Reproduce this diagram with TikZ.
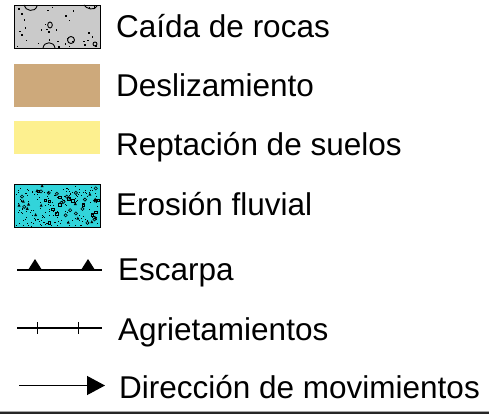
\documentclass[tikz,border=0pt]{standalone}
\usepackage{fontspec}
\setmainfont{Liberation Sans}
\usetikzlibrary{arrows.meta}
\definecolor{rockgray}{RGB}{202,202,202}
\definecolor{slidetan}{RGB}{205,169,123}
\definecolor{creepyel}{RGB}{253,240,143}
\definecolor{rivcyan}{RGB}{50,212,218}
\tikzset{
  swatch/.style={minimum width=86pt, minimum height=43pt, inner sep=0pt, outer sep=0pt},
  lbl/.style={anchor=base west, inner sep=0pt, font=\fontsize{31.5}{36}\selectfont},
  symline/.style={line width=1.8pt},
}
\begin{document}
\begin{tikzpicture}[x=1pt,y=-1pt]
\useasboundingbox (0,0) rectangle (489,414);
\fill[white] (0,0) rectangle (489,414);
\pgfmathsetseed{12}
% swatches
\node[swatch, fill=rockgray] (s1) at (57,26.5) {};
\begin{scope}
  \clip (s1.north west) rectangle (s1.south east);
  \foreach \i in {1,...,34}{
    \pgfmathsetmacro{\rx}{15+84*rnd}
    \pgfmathsetmacro{\ry}{6+41*rnd}
    \fill (\rx,\ry) rectangle ++(1.6,1.6);
  }
  \draw[line width=0.9pt] (24,5) .. controls (25,11) and (35,13) .. (37,6);
  \draw[line width=0.9pt] (84,5) .. controls (86,9) and (95,11) .. (97,6);
  \draw[line width=0.9pt] (50,25) circle (2.3 and 3);
  \draw[line width=0.9pt] (43,48) .. controls (44,41) and (54,41) .. (55,48);
  \draw[line width=0.9pt] (71,40) circle (3.5);
  \draw[line width=0.9pt] (95,44) circle (2);
\end{scope}
\draw[line width=0.9pt] (s1.north west) rectangle (s1.south east);

\node[swatch, fill=slidetan] (s2) at (57,85.5) {};
\node[swatch, fill=creepyel, minimum height=33pt] (s3) at (57,137.5) {};

\node[swatch, fill=rivcyan] (s4) at (57,205.5) {};
\begin{scope}
  \clip (s4.north west) rectangle (s4.south east);
  \foreach \i in {1,...,170}{
    \pgfmathsetmacro{\rx}{15+84*rnd}
    \pgfmathsetmacro{\ry}{185+41*rnd}
    \fill (\rx,\ry) rectangle ++(1,1);
  }
  \foreach \i in {1,...,18}{
    \pgfmathsetmacro{\rx}{17+80*rnd}
    \pgfmathsetmacro{\ry}{187+37*rnd}
    \draw[line width=0.6pt] (\rx,\ry) circle (1.6);
  }
  \foreach \i in {1,...,16}{
    \pgfmathsetmacro{\rx}{17+80*rnd}
    \pgfmathsetmacro{\ry}{187+37*rnd}
    \fill (\rx,\ry) -- ++(3,0) -- ++(-1.5,-3) -- cycle;
  }
  \foreach \i in {1,...,14}{
    \pgfmathsetmacro{\rx}{17+80*rnd}
    \pgfmathsetmacro{\ry}{187+37*rnd}
    \draw[line width=0.6pt] (\rx,\ry) rectangle ++(2.8,2.4);
  }
\end{scope}
\draw[line width=0.9pt] (s4.north west) rectangle (s4.south east);

% symbols
\coordinate (e1) at (17,270);
\coordinate (e2) at (102,270);
\draw[symline] (e1) -- (e2);
\fill (28,270) -- (35,259) -- (42,270) -- cycle;
\fill (81,270) -- (88,259) -- (95,270) -- cycle;

\coordinate (a1) at (17,328);
\coordinate (a2) at (102,328);
\draw[line width=1.4pt] (a1) -- (a2);
\draw[line width=0.8pt] (37,322) -- (37,334);
\draw[line width=0.8pt] (78,322) -- (78,334);

\coordinate (d1) at (19,385.5);
\coordinate (d2) at (105,385.5);
\draw[line width=1.3pt, -{Triangle[length=18pt,width=19pt]}] (d1) -- (d2);

% labels
\node[lbl] (t1) at (116,38) {Caída de rocas};
\node[lbl] (t2) at (116,97) {Deslizamiento};
\node[lbl] (t3) at (116,156) {Reptación de suelos};
\node[lbl] (t4) at (116,215) {Erosión fluvial};
\node[lbl] (t5) at (118,280) {Escarpa};
\node[lbl] (t6) at (118,340) {Agrietamientos};
\node[lbl] (t7) at (119,398) {Dirección de movimientos};

% bottom border
\fill[gray!70] (0,410.5) rectangle (489,411.5);
\fill[black!85] (0,411.5) rectangle (489,414);
\end{tikzpicture}
\end{document}
